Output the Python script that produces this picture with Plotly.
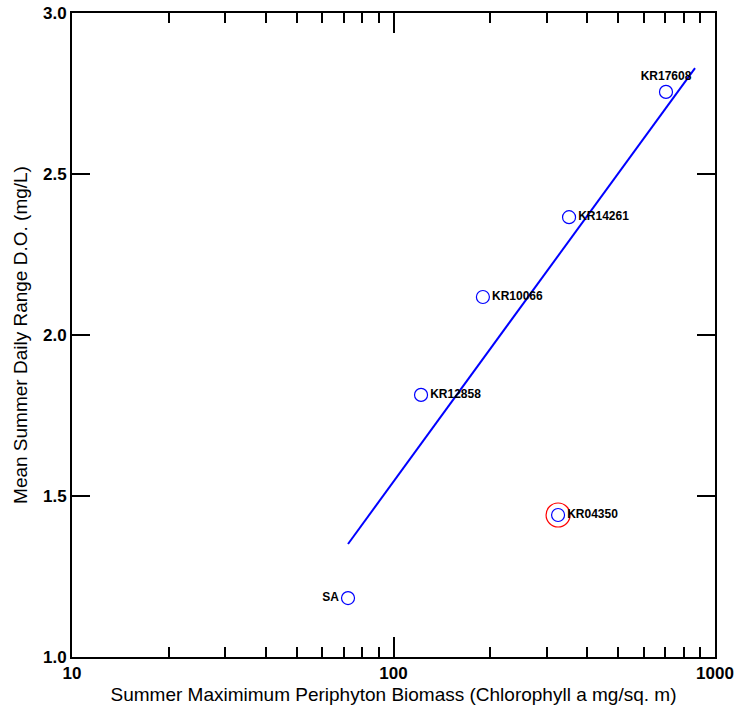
import plotly.graph_objects as go

sites = ["SA", "KR12858", "KR10066", "KR04350", "KR14261", "KR17608"]
biomass = [72.2, 121.8, 189.7, 325, 351.6, 704]
do_range = [1.183, 1.814, 2.118, 1.441, 2.366, 2.755]
text_pos = ["middle left", "middle right", "middle right", "middle right", "middle right", "top center"]

fit_x = [72.2, 866.7]
fit_y = [1.351, 2.829]

highlight_x = [325]
highlight_y = [1.441]

major_x = [10, 100, 1000]
minor_x = [20, 30, 40, 50, 60, 70, 80, 90, 200, 300, 400, 500, 600, 700, 800, 900]
y_ticks = [1.0, 1.5, 2.0, 2.5, 3.0]

fig = go.Figure()
fig.add_trace(go.Scatter(x=fit_x, y=fit_y, mode="lines",
                         line=dict(color="#0000ff", width=2), hoverinfo="skip"))
fig.add_trace(go.Scatter(x=highlight_x, y=highlight_y, mode="markers",
                         marker=dict(symbol="circle-open", size=24, color="#ff0000",
                                     line=dict(width=1.2, color="#ff0000"))))
fig.add_trace(go.Scatter(x=biomass, y=do_range, mode="markers+text", text=sites,
                         textposition=text_pos,
                         textfont=dict(family="Liberation Sans, Arial", size=12, color="black", weight="bold"),
                         marker=dict(symbol="circle-open", size=13, color="#0000ff",
                                     line=dict(width=1.2, color="#0000ff"))))

fig.update_layout(
    width=735, height=709,
    margin=dict(l=72, r=20, t=13, b=52),
    paper_bgcolor="white", plot_bgcolor="white",
    showlegend=False,
    font=dict(family="Liberation Sans, Arial", color="black"),
    xaxis=dict(type="log", range=[1, 3], tickmode="array", tickvals=major_x,
               ticktext=[str(v) for v in major_x],
               ticks="inside", ticklen=20, tickwidth=2, tickcolor="black",
               minor=dict(tickmode="array", tickvals=minor_x, ticks="inside",
                          ticklen=10, tickwidth=2, tickcolor="black"),
               showline=True, linewidth=2, linecolor="black", mirror="allticks",
               showgrid=False, zeroline=False, automargin=False,
               ticklabeloverflow="allow",
               tickfont=dict(size=17, weight="bold"),
               title=dict(text="Summer Maximimum Periphyton Biomass (Chlorophyll a mg/sq. m)",
                          font=dict(size=19), standoff=5)),
    yaxis=dict(range=[1.0, 3.0], tickmode="array", tickvals=y_ticks,
               ticktext=["%.1f" % v for v in y_ticks],
               ticks="inside", ticklen=18, tickwidth=2, tickcolor="black",
               showline=True, linewidth=2, linecolor="black", mirror="allticks",
               showgrid=False, zeroline=False, automargin=False,
               ticklabeloverflow="allow",
               tickfont=dict(size=17, weight="bold"),
               title=dict(text="Mean Summer Daily Range D.O. (mg/L)",
                          font=dict(size=19), standoff=10)),
)

fig.write_html(
    "out.html",
    config={"displayModeBar": False},
    post_script="document.body.style.margin='0';document.body.style.overflow='hidden';",
)
